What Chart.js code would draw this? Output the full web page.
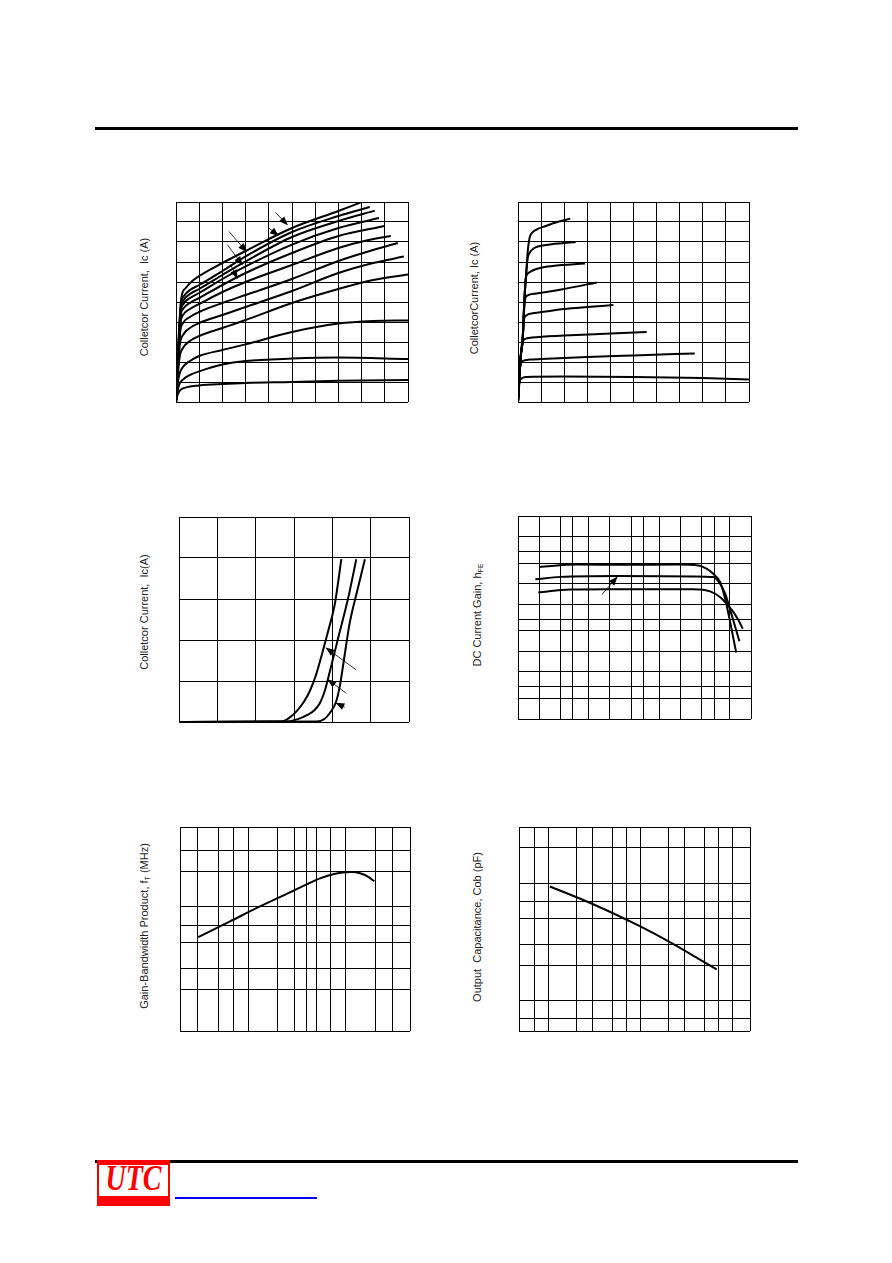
<!DOCTYPE html>
<html><head><meta charset="utf-8">
<script src="https://cdn.jsdelivr.net/npm/chart.js@4.4.1/dist/chart.umd.min.js"></script>
<style>
html,body{margin:0;padding:0;background:#fff;}
#page{position:relative;width:892px;height:1263px;overflow:hidden;background:#fff;font-family:"Liberation Sans",Arial,sans-serif;}
canvas{position:absolute;}
.ttl{position:absolute;white-space:nowrap;font-size:11px;color:#222;transform:translate(-50%,-50%) rotate(-90deg);}
.ttl sub{font-size:7px;vertical-align:-2px;}
</style></head><body><div id="page">
<div style="position:absolute;left:95px;top:127px;width:703px;height:3px;background:#000"></div>
<div style="position:absolute;left:95px;top:1160px;width:703px;height:3px;background:#000"></div>
<div style="position:absolute;left:97px;top:1160px;width:73px;height:46px;background:#f00;overflow:hidden">
  <div style="position:absolute;left:2px;top:5px;width:69px;height:31px;background:#fff"></div>
  <div style="position:absolute;left:0;top:-1px;width:73px;text-align:center;font:italic bold 35px/40px 'Liberation Serif','Times New Roman',serif;color:#f00;transform:scaleX(0.8);">UTC</div>
</div>
<div style="position:absolute;left:175px;top:1197px;width:142px;height:2px;background:#00f"></div>

<canvas id="c1"></canvas><canvas id="c2"></canvas><canvas id="c3"></canvas>
<canvas id="c4"></canvas><canvas id="c5"></canvas><canvas id="c6"></canvas>

<div class="ttl" style="left:144px;top:297px">Colletcor Current,&nbsp; Ic (A)</div>
<div class="ttl" style="left:474px;top:298px">ColletcorCurrent, Ic (A)</div>
<div class="ttl" style="left:144px;top:612px">Colletcor Current,&nbsp; Ic(A)</div>
<div class="ttl" style="left:477px;top:615px">DC Current Gain, h<sub>FE</sub></div>
<div class="ttl" style="left:144px;top:926px">Gain-Bandwidth Product, f<sub>T</sub> (MHz)</div>
<div class="ttl" style="left:477px;top:927px">Output&nbsp; Capacitance, Cob (pF)</div>
</div>
<script>
// ---------- Chart 1: Ic vs Vce (grid 0..10 x 0..10) ----------
const C1_XGRID = [0,1,2,3,4,5,6,7,8,9,10];
const C1_YGRID = [0,1,2,3,4,5,6,7,8,9,10];
const IC1_1 = [[0,0],[0.05,0.3],[0.15,0.55],[0.3,0.68],[0.6,0.77],[1,0.83],[2,0.9],[3,0.95],[5,1.0],[7,1.06],[10,1.1]];
const IC1_2 = [[0,0],[0.05,0.45],[0.15,0.9],[0.3,1.12],[0.6,1.35],[1,1.53],[2,1.87],[3,2.05],[5,2.17],[7,2.22],[10,2.15]];
const IC1_3 = [[0,0],[0.06,0.8],[0.15,1.4],[0.3,1.75],[0.6,2.05],[1,2.3],[2,2.6],[3,2.88],[5,3.5],[7,3.92],[8.5,4.05],[10,4.08]];
const IC1_4 = [[0,0],[0.07,1.2],[0.15,2.2],[0.3,2.7],[0.6,3.05],[1,3.3],[2,3.7],[3,4.1],[5,4.95],[7,5.65],[8.5,6.1],[10,6.37]];
const IC1_5 = [[0,0],[0.08,1.6],[0.17,2.9],[0.3,3.35],[0.6,3.7],[1,3.95],[2,4.35],[3,4.75],[5,5.55],[7,6.45],[8.5,6.95],[9.82,7.27]];
const IC1_6 = [[0,0],[0.09,2.0],[0.18,3.5],[0.3,3.95],[0.6,4.25],[1,4.5],[2,4.95],[3,5.35],[5,6.15],[7,7.05],[8.5,7.6],[9.56,7.95]];
const IC1_7 = [[0,0],[0.1,2.4],[0.2,4.0],[0.3,4.35],[0.6,4.65],[1,4.9],[2,5.5],[3,6.0],[5,6.85],[7,7.7],[8.3,8.1],[9.26,8.3]];
const IC1_8 = [[0,0],[0.1,2.6],[0.2,4.3],[0.3,4.65],[0.6,4.95],[1,5.2],[2,5.85],[3,6.45],[5,7.45],[7,8.3],[9.0,8.8]];
const IC1_9 = [[0,0],[0.11,2.8],[0.21,4.55],[0.32,4.9],[0.6,5.2],[1,5.45],[2,6.15],[3,6.78],[5,7.87],[7,8.7],[8.75,9.2]];
const IC1_10 = [[0,0],[0.12,3.0],[0.22,4.75],[0.33,5.1],[0.6,5.4],[1,5.65],[2,6.35],[3,7.03],[5,8.25],[7,9.05],[8.57,9.57]];
const IC1_11 = [[0,0],[0.12,3.2],[0.22,4.95],[0.34,5.3],[0.6,5.6],[1,5.85],[2,6.55],[3,7.28],[5,8.5],[7,9.3],[8.35,9.75]];
const IC1_12 = [[0,0],[0.13,3.6],[0.23,5.2],[0.42,5.7],[0.7,6.05],[1,6.3],[2,6.95],[3,7.55],[5,8.7],[7,9.55],[7.95,9.97]];
// annotation arrows (tail -> tip)
const C1_ARROWS = [[[4.29,9.48],[4.79,8.87]],[[4.0,8.7],[4.4,8.33]],[[2.28,8.53],[3.03,7.53]],[[2.21,7.87],[2.85,6.87]],[[2.35,6.87],[2.64,6.2]]];

// ---------- Chart 2: Ic vs Vce (grid 0..10 x 0..10) ----------
const C2_XGRID = [0,1,2,3,4,5,6,7,8,9,10];
const C2_YGRID = [0,1,2,3,4,5,6,7,8,9,10];
const IC2_1 = [[0,0],[0.03,0.5],[0.06,0.95],[0.12,1.15],[0.35,1.25],[2,1.27],[5,1.25],[8,1.2],[10,1.13]];
const IC2_2 = [[0,0],[0.06,1.2],[0.1,1.8],[0.2,2.05],[0.5,2.12],[1,2.15],[3,2.25],[5,2.33],[7.65,2.43]];
const IC2_3 = [[0,0],[0.06,1.2],[0.12,2.3],[0.18,2.95],[0.3,3.15],[0.6,3.22],[2,3.32],[4,3.42],[5.57,3.5]];
const IC2_4 = [[0,0],[0.06,1.2],[0.12,2.3],[0.2,3.1],[0.25,4.0],[0.32,4.3],[0.7,4.45],[2,4.65],[3,4.75],[4.13,4.85]];
const IC2_5 = [[0,0],[0.06,1.2],[0.12,2.3],[0.2,3.1],[0.26,4.5],[0.3,5.1],[0.4,5.32],[0.8,5.42],[2,5.65],[3.41,5.98]];
const IC2_6 = [[0,0],[0.06,1.2],[0.12,2.3],[0.2,3.1],[0.28,5.2],[0.34,6.2],[0.45,6.45],[0.8,6.65],[1.5,6.8],[2.9,6.92]];
const IC2_7 = [[0,0],[0.06,1.2],[0.12,2.3],[0.2,3.1],[0.28,5.2],[0.36,6.5],[0.42,7.2],[0.5,7.45],[0.7,7.7],[1.2,7.85],[2,7.95],[2.5,8.0]];
const IC2_8 = [[0,0],[0.06,1.2],[0.12,2.3],[0.2,3.1],[0.28,5.2],[0.36,6.5],[0.42,7.5],[0.5,8.2],[0.6,8.45],[0.8,8.62],[1.2,8.8],[1.7,9.0],[2.26,9.17]];

// ---------- Chart 3: Ic vs Vbe ----------
const C3_XGRID = [0,0.2,0.4,0.6,0.8,1.0,1.2];
const C3_YGRID = [0,1,2,3,4,5];
const VBE_A = [[0,0],[0.534,0.01],[0.575,0.1],[0.613,0.26],[0.65,0.48],[0.682,0.75],[0.715,1.15],[0.745,1.64],[0.78,2.25],[0.812,2.85],[0.847,3.97]];
const VBE_B = [[0,0],[0.56,0.01],[0.62,0.07],[0.665,0.16],[0.705,0.28],[0.734,0.45],[0.76,0.75],[0.787,1.23],[0.83,2.04],[0.882,3.01],[0.925,3.97]];
const VBE_C = [[0,0],[0.717,0.01],[0.76,0.08],[0.787,0.22],[0.82,0.5],[0.84,0.9],[0.86,1.5],[0.89,2.4],[0.93,3.2],[0.97,3.97]];
const C3_ARROWS = [[[0.925,1.27],[0.769,1.8]],[[0.873,0.7],[0.778,1.03]],[[0.865,0.36],[0.821,0.46]]];

// ---------- Chart 4: hFE vs Ic (log-log) ----------
const C4_XGRID = [0.5,1,2,3,5,10,20,30,50,100,200,300,500,1000];
const C4_YGRID = [1,2,3,5,10,20,30,50,100,200,300,500,1000];
const HFE_T = [[1.0,177],[3.4,192],[17.5,190],[89,192],[180,185],[237,165],[294,139],[366,105],[430,60],[507,27],[616,9.6]];
const HFE_M = [[0.88,116],[2.0,126],[12.6,130],[153,128],[294,125],[366,99],[430,71],[535,34],[685,14.1]];
const HFE_B = [[0.97,74],[2.76,82],[10.2,83],[153,83],[264,77],[366,63],[455,50],[564,38],[664,28.7],[765,21.6]];
const C4_ARROWS = [[[7.76,69.3],[12.6,124]]];

// ---------- Chart 5: fT vs Ic (log-log) ----------
const C5_XGRID = [2,3,5,7,10,20,30,40,50,70,100,200,300,455];
const C5_YGRID = [8.94,20,30,50,70,100,200,300,474];
const FT = [[3.08,55.5],[6.51,75.5],[13.2,101.1],[26.8,133],[38.2,153],[54.4,174.4],[74,189.2],[98.2,196.7],[115.8,197.5],[139.8,192.9],[165,182.6],[196,164.8]];

// ---------- Chart 6: Cob vs Vcb (log-log) ----------
const C6_XGRID = [0.48,0.7,1,2,3,5,7,10,20,30,50,70,100,155];
const C6_YGRID = [5.5,7,10,20,30,50,70,100,200,300];
const COB = [[1.04,93.4],[2.195,73.8],[4.65,57.0],[9.86,42.9],[20.9,31.4],[44.3,22.3],[67.3,18.4]];

const PAD = 2;
// draws a filled arrowhead at the last point of datasets marked as arrows
const arrowHeads = {
  id: 'arrowHeads',
  afterDatasetsDraw(chart) {
    const ctx = chart.ctx;
    chart.data.datasets.forEach((ds, i) => {
      if (!ds.isArrow) return;
      const pts = chart.getDatasetMeta(i).data;
      const a = pts[0], b = pts[pts.length - 1];
      const ang = Math.atan2(b.y - a.y, b.x - a.x);
      ctx.save();
      ctx.translate(b.x, b.y); ctx.rotate(ang);
      ctx.beginPath(); ctx.moveTo(1, 0); ctx.lineTo(-8, -3.5); ctx.lineTo(-8, 3.5); ctx.closePath();
      ctx.fillStyle = '#000'; ctx.fill();
      ctx.restore();
    });
  }
};
function axis(type, grid) {
  return {
    type, min: grid[0], max: grid[grid.length-1], display: true, offset: false,
    ticks: {display: false}, border: {display: false},
    grid: {color: '#000', lineWidth: 1, drawTicks: false},
    afterBuildTicks: s => { s.ticks = grid.map(v => ({value: v})); }
  };
}
function makeChart(id, L, T, R, B, xType, xGrid, yType, yGrid, curves, arrows) {
  const c = document.getElementById(id);
  c.width = R - L + 2*PAD; c.height = B - T + 2*PAD;
  c.style.left = (L - PAD) + 'px'; c.style.top = (T - PAD) + 'px';
  const ds = curves.map(pts => ({
    data: pts.map(p => ({x: p[0], y: p[1]})),
    borderColor: '#000', borderWidth: 2, pointRadius: 0, fill: false,
    cubicInterpolationMode: 'monotone'
  }));
  (arrows || []).forEach(ar => ds.push({
    data: ar.map(p => ({x: p[0], y: p[1]})), isArrow: true,
    borderColor: '#000', borderWidth: 0.8, pointRadius: 0, fill: false, tension: 0
  }));
  new Chart(c, {
    type: 'line',
    data: { datasets: ds },
    options: {
      responsive: false, animation: false, devicePixelRatio: 1, events: [],
      layout: {padding: PAD},
      plugins: {legend: {display: false}, tooltip: {enabled: false}},
      scales: { x: axis(xType, xGrid), y: axis(yType, yGrid) }
    },
    plugins: [arrowHeads]
  });
}
makeChart('c1', 176, 202, 408, 402, 'linear', C1_XGRID, 'linear', C1_YGRID,
  [IC1_1,IC1_2,IC1_3,IC1_4,IC1_5,IC1_6,IC1_7,IC1_8,IC1_9,IC1_10,IC1_11,IC1_12], C1_ARROWS);
makeChart('c2', 518, 202, 749, 402, 'linear', C2_XGRID, 'linear', C2_YGRID,
  [IC2_1,IC2_2,IC2_3,IC2_4,IC2_5,IC2_6,IC2_7,IC2_8]);
makeChart('c3', 179, 517, 409, 722, 'linear', C3_XGRID, 'linear', C3_YGRID, [VBE_A,VBE_B,VBE_C], C3_ARROWS);
makeChart('c4', 518, 516, 751, 719, 'logarithmic', C4_XGRID, 'logarithmic', C4_YGRID, [HFE_T,HFE_M,HFE_B], C4_ARROWS);
makeChart('c5', 180, 827, 410, 1031, 'logarithmic', C5_XGRID, 'logarithmic', C5_YGRID, [FT]);
makeChart('c6', 519, 827, 750, 1031, 'logarithmic', C6_XGRID, 'logarithmic', C6_YGRID, [COB]);
</script>
</body></html>
